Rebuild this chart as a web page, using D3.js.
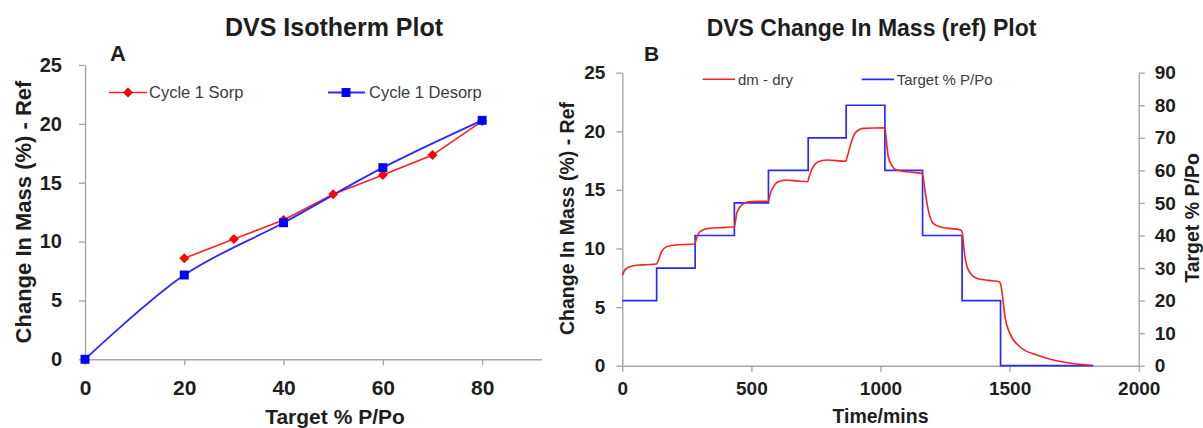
<!DOCTYPE html>
<html><head><meta charset="utf-8">
<script src="https://cdn.jsdelivr.net/npm/d3@7"></script>
<style>
body{margin:0;background:#fff;}
svg{display:block;font-family:"Liberation Sans",Arial,sans-serif;}
</style></head><body>
<svg id="c" width="1203" height="428"></svg>
<script>
// ---------- Data: Plot A (isotherm) ----------
const sorpX = [20, 30, 40, 50, 60, 70, 80];
const sorpY = [8.58, 10.22, 11.83, 14.02, 15.66, 17.35, 20.24];
const desorpX = [0, 20, 40, 60, 80];
const desorpY = [0, 7.16, 11.6, 16.28, 20.3];
const isoXTicks = [0, 20, 40, 60, 80];
const isoYTicks = [0, 5, 10, 15, 20, 25];

// ---------- Data: Plot B (change in mass vs time) ----------
const dmTime = [0, 8, 17, 43, 90, 133, 140, 152, 172, 204, 280, 284, 290, 301, 333, 400, 434, 438, 443, 462, 488, 566,
  569, 575, 582, 604, 637, 680, 718, 722, 733, 759, 791, 866, 869, 875, 882, 901, 933, 1017, 1020, 1024, 1030, 1043,
  1063, 1101, 1160, 1165, 1172, 1185, 1204, 1237, 1311, 1317, 1322, 1327, 1340, 1372, 1420, 1460, 1466, 1476, 1482,
  1501, 1540, 1605, 1682, 1760, 1805, 1818];
const dmValue = [7.7, 8.1, 8.3, 8.53, 8.62, 8.68, 9.0, 9.73, 10.16, 10.3, 10.38, 10.6, 11.0, 11.43, 11.72, 11.8, 11.86, 12.3, 13.0, 13.71, 13.99, 14.05,
  14.3, 14.8, 15.13, 15.7, 15.84, 15.75, 15.7, 16.0, 16.7, 17.41, 17.55, 17.45, 17.7, 18.1, 18.69, 19.83, 20.25, 20.3, 19.8, 18.97, 17.83, 17.12,
  16.7, 16.55, 16.41, 16.1, 14.99, 13.28, 12.15, 11.81, 11.58, 11.3, 10.2, 9.3, 8.17, 7.46, 7.28, 7.17, 6.9, 5.3, 4.18,
  2.76, 1.62, 0.91, 0.43, 0.15, 0.06, 0.04];
const stepTime = [0, 133, 282, 434, 566, 720, 867, 1017, 1163, 1316, 1465, 1824];
const stepTarget = [20, 30, 40, 50, 60, 70, 80, 60, 40, 20, 0, 0];
const timeTicks = [0, 500, 1000, 1500, 2000];
const massTicks = [0, 5, 10, 15, 20, 25];
const targetTicks = [0, 10, 20, 30, 40, 50, 60, 70, 80, 90];

const svg = d3.select("#c");
const AX = "#a6a6a6", TXT = "#1e1e1e", LEG = "#3c3c3c";
const RED = "#ff1f1f", BLUE = "#2a2aff";
const fmt = d3.format("d");

function styleAxis(g, fs) {
  g.select(".domain").attr("stroke", AX).attr("stroke-width", 1.4);
  g.selectAll(".tick line").attr("stroke", AX).attr("stroke-width", 1.4);
  g.selectAll(".tick text").attr("fill", TXT).attr("font-size", fs).attr("font-weight", "bold")
    .attr("font-family", "'Liberation Sans',Arial,sans-serif");
}

// ================= Plot A =================
const xA = d3.scaleLinear().domain([0, 92]).range([85, 541.7]);
const yA = d3.scaleLinear().domain([0, 25]).range([359.3, 65]);

const gAy = svg.append("g").attr("transform", `translate(${xA(0)},0)`)
  .call(d3.axisLeft(yA).tickValues(isoYTicks).tickFormat(fmt).tickSize(6).tickSizeOuter(0).tickPadding(17));
styleAxis(gAy, 20);
const gAx = svg.append("g").attr("transform", `translate(0,${yA(0)})`)
  .call(d3.axisBottom(xA).tickValues(isoXTicks).tickFormat(fmt).tickSize(6).tickSizeOuter(0).tickPadding(15));
styleAxis(gAx, 21);

const desorpData = desorpX.map((x, i) => [x, desorpY[i]]);
const sorpData = sorpX.map((x, i) => [x, sorpY[i]]);
svg.append("path").datum(sorpData).attr("fill", "none").attr("stroke", RED).attr("stroke-width", 1.6)
  .attr("d", d3.line().x(d => xA(d[0])).y(d => yA(d[1])));
svg.append("path").datum(desorpData).attr("fill", "none").attr("stroke", BLUE).attr("stroke-width", 1.8)
  .attr("d", d3.line().curve(d3.curveCatmullRom.alpha(0.5)).x(d => xA(d[0])).y(d => yA(d[1])));

const diamond = d3.symbol().type(d3.symbolSquare).size(50);
const square = d3.symbol().type(d3.symbolSquare).size(80);
svg.selectAll(".sm").data(sorpData).join("path").attr("fill", "#ff0000")
  .attr("transform", d => `translate(${xA(d[0])},${yA(d[1])}) rotate(45)`).attr("d", diamond);
svg.selectAll(".dm").data(desorpData).join("path").attr("fill", "#0000ff")
  .attr("transform", d => `translate(${xA(d[0])},${yA(d[1])})`).attr("d", square);

// legend A
const legA = svg.append("g").attr("font-size", 16.5).attr("fill", LEG);
legA.append("line").attr("x1", 109).attr("x2", 147).attr("y1", 92.5).attr("y2", 92.5).attr("stroke", RED).attr("stroke-width", 1.6);
legA.append("path").attr("fill", "#ff0000").attr("transform", "translate(128,92.5) rotate(45)").attr("d", diamond);
legA.append("text").attr("x", 149).attr("y", 92.5).attr("dy", "0.35em").text("Cycle 1 Sorp");
legA.append("line").attr("x1", 328).attr("x2", 365).attr("y1", 92.5).attr("y2", 92.5).attr("stroke", BLUE).attr("stroke-width", 1.8);
legA.append("path").attr("fill", "#0000ff").attr("transform", "translate(346,92.5)").attr("d", square);
legA.append("text").attr("x", 369).attr("y", 92.5).attr("dy", "0.35em").text("Cycle 1 Desorp");

// titles A
svg.append("text").attr("x", 334).attr("y", 36).attr("text-anchor", "middle").attr("font-size", 25)
  .attr("font-weight", "bold").attr("fill", TXT).text("DVS Isotherm Plot");
svg.append("text").attr("x", 110).attr("y", 61).attr("font-size", 22)
  .attr("font-weight", "bold").attr("fill", TXT).text("A");
svg.append("text").attr("transform", "translate(23,212) rotate(-90)").attr("dy", "0.35em").attr("text-anchor", "middle")
  .attr("font-size", 22).attr("font-weight", "bold").attr("fill", TXT).text("Change In Mass (%) - Ref");
svg.append("text").attr("x", 335).attr("y", 417).attr("dy", "0.35em").attr("text-anchor", "middle")
  .attr("font-size", 21).attr("font-weight", "bold").attr("fill", TXT).text("Target % P/Po");

// ================= Plot B =================
const xB = d3.scaleLinear().domain([0, 2000]).range([622.3, 1138.7]);
const yBL = d3.scaleLinear().domain([0, 25]).range([365.7, 72.7]);
const yBR = d3.scaleLinear().domain([0, 90]).range([365.7, 72.7]);

const gBy = svg.append("g").attr("transform", `translate(${xB(0)},0)`)
  .call(d3.axisLeft(yBL).tickValues(massTicks).tickFormat(fmt).tickSize(6).tickSizeOuter(0).tickPadding(11));
styleAxis(gBy, 19);
const gBr = svg.append("g").attr("transform", `translate(${xB(2000)},0)`)
  .call(d3.axisRight(yBR).tickValues(targetTicks).tickFormat(fmt).tickSize(6).tickSizeOuter(0).tickPadding(10));
styleAxis(gBr, 19);
const gBx = svg.append("g").attr("transform", `translate(0,${yBL(0)})`)
  .call(d3.axisBottom(xB).tickValues(timeTicks).tickFormat(fmt).tickSize(6).tickSizeOuter(0).tickPadding(10));
styleAxis(gBx, 19);

const stepData = stepTime.map((t, i) => [t, stepTarget[i]]);
svg.append("path").datum(stepData).attr("fill", "none").attr("stroke", BLUE).attr("stroke-width", 1.7)
  .attr("d", d3.line().curve(d3.curveStepAfter).x(d => xB(d[0])).y(d => yBR(d[1])));
const dmData = dmTime.map((t, i) => [t, dmValue[i]]);
svg.append("path").datum(dmData).attr("fill", "none").attr("stroke", RED).attr("stroke-width", 1.6)
  .attr("d", d3.line().curve(d3.curveMonotoneX).x(d => xB(d[0])).y(d => yBL(d[1])));

// legend B
const legB = svg.append("g").attr("font-size", 15).attr("fill", LEG);
legB.append("line").attr("x1", 702.7).attr("x2", 735).attr("y1", 79.3).attr("y2", 79.3).attr("stroke", RED).attr("stroke-width", 1.6);
legB.append("text").attr("x", 738).attr("y", 79.3).attr("dy", "0.35em").text("dm - dry");
legB.append("line").attr("x1", 861.7).attr("x2", 894).attr("y1", 79.3).attr("y2", 79.3).attr("stroke", BLUE).attr("stroke-width", 1.7);
legB.append("text").attr("x", 896.7).attr("y", 79.3).attr("dy", "0.35em").text("Target % P/Po");

// titles B
svg.append("text").attr("x", 871.5).attr("y", 36).attr("text-anchor", "middle").attr("font-size", 23)
  .attr("font-weight", "bold").attr("fill", TXT).text("DVS Change In Mass (ref) Plot");
svg.append("text").attr("x", 644).attr("y", 61).attr("font-size", 21)
  .attr("font-weight", "bold").attr("fill", TXT).text("B");
svg.append("text").attr("transform", "translate(567,218.5) rotate(-90)").attr("dy", "0.35em").attr("text-anchor", "middle")
  .attr("font-size", 19.5).attr("font-weight", "bold").attr("fill", TXT).text("Change In Mass (%) - Ref");
svg.append("text").attr("transform", "translate(1191.7,218) rotate(-90)").attr("dy", "0.35em").attr("text-anchor", "middle")
  .attr("font-size", 19.5).attr("font-weight", "bold").attr("fill", TXT).text("Target % P/Po");
svg.append("text").attr("x", 880.5).attr("y", 416).attr("dy", "0.35em").attr("text-anchor", "middle")
  .attr("font-size", 19.5).attr("font-weight", "bold").attr("fill", TXT).text("Time/mins");
</script>
</body></html>
